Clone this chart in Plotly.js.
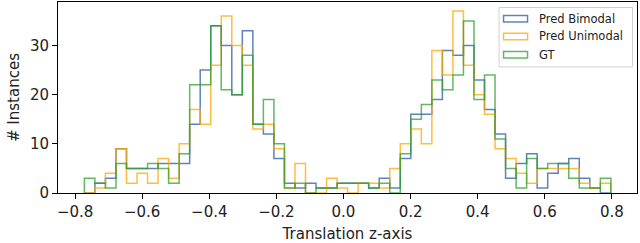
<!DOCTYPE html>
<html>
<head>
<meta charset="utf-8">
<script src="https://cdn.plot.ly/plotly-3.0.1.min.js"></script>
<style>html,body{margin:0;padding:0;background:#fff;}#chart{width:640px;height:243px;}</style>
</head>
<body>
<div id="chart"></div>
<script>
// Histogram bins (shared by all three series)
const binStart = -0.7724;
const binWidth = 0.03139;
const nBins = 50;

// Counts per bin
const predBimodal = [0,2,3,9,5,5,5,6,6,6, 14,25,34,30,20,33,14,12,7,2, 1,2,1,1,2,2,2,1,3,1, 7,16,16,19,29,28,30,23,17,12, 3,6,8,1,4,6,7,3,1,0];
const predUnimodal = [0,1,4,9,2,4,2,7,3,10, 17,14,26,36,30,26,13,14,9,1, 6,0,0,3,1,0,2,2,1,5, 10,13,10,29,24,37,26,20,16,9, 7,4,2,5,5,5,5,2,1,2];
const gt = [3,2,1,6,5,5,6,5,2,8, 22,22,34,21,20,28,14,19,10,1, 2,0,1,1,2,2,2,1,2,0, 8,15,18,23,21,24,35,19,24,11, 5,1,7,5,6,6,3,1,1,3];

const seriesNames = ["Pred Bimodal", "Pred Unimodal", "GT"];
const xTickVals = [-0.8,-0.6,-0.4,-0.2,0,0.2,0.4,0.6,0.8];
const xTickText = ["\u22120.8","\u22120.6","\u22120.4","\u22120.2","0.0","0.2","0.4","0.6","0.8"];
const yTickVals = [0,10,20,30];
const yTickText = ["0","10","20","30"];

const colors = ["rgba(40,90,165,0.75)", "rgba(255,165,0,0.75)", "rgba(44,160,44,0.75)"];

function stepTrace(counts, name, color) {
  const xs = [binStart], ys = [0];
  for (let i = 0; i < counts.length; i++) {
    xs.push(binStart + i * binWidth);
    ys.push(counts[i]);
  }
  xs.push(binStart + counts.length * binWidth);
  ys.push(0);
  return {type: "scatter", mode: "lines", x: xs, y: ys, name: name,
          line: {shape: "hv", color: color, width: 1.5}, showlegend: false, hoverinfo: "skip"};
}

const traces = [
  stepTrace(predBimodal, seriesNames[0], colors[0]),
  stepTrace(predUnimodal, seriesNames[1], colors[1]),
  stepTrace(gt, seriesNames[2], colors[2])
];

// plot area in pixels: left 58.3, right 637.5, top 2, bottom 193.3
const L = 58.3, R = 637.5, T = 2, B = 193.3;
const px = v => (v - L) / (R - L);
const py = v => (B - v) / (B - T);

const shapes = [];
const annotations = [];
// legend frame
(function(){
  const x0 = px(499.5), x1 = px(633), y0 = py(67), y1 = py(7.5);
  shapes.push({type: "rect", xref: "paper", yref: "paper", x0: x0, x1: x1, y0: y0, y1: y1,
    line: {color: "#d0d0d0", width: 1}, fillcolor: "rgba(255,255,255,0.85)", layer: "above"});
})();
const legendY = [18.7, 36.5, 54.8];
for (let i = 0; i < 3; i++) {
  shapes.push({type: "rect", xref: "paper", yref: "paper",
    x0: px(504), x1: px(528), y0: py(legendY[i] + 3.3), y1: py(legendY[i] - 3.3),
    line: {color: colors[i], width: 1.5}, fillcolor: "rgba(0,0,0,0)", layer: "above"});
  annotations.push({xref: "paper", yref: "paper", x: px(537), y: py(legendY[i]),
    xanchor: "left", yanchor: "middle", text: seriesNames[i], showarrow: false,
    font: {family: "DejaVu Sans", size: 11.5, color: "#222"}});
}

const layout = {
  width: 640, height: 243,
  margin: {l: L, r: 640 - R, t: T, b: 243 - B, pad: 0},
  paper_bgcolor: "#fff", plot_bgcolor: "#fff",
  font: {family: "DejaVu Sans", size: 15, color: "#222"},
  showlegend: false,
  xaxis: {
    range: [-0.851, 0.875], showgrid: false, zeroline: false,
    showline: true, mirror: true, linecolor: "#000", linewidth: 1,
    ticks: "outside", ticklen: 5, tickwidth: 1, tickcolor: "#000",
    tickvals: xTickVals, ticktext: xTickText,
    tickfont: {family: "DejaVu Sans", size: 15, color: "#222"},
    title: {text: "Translation z-axis", font: {family: "DejaVu Sans", size: 15, color: "#222"}, standoff: 8}
  },
  yaxis: {
    range: [0, 38.85], showgrid: false, zeroline: false,
    showline: true, mirror: true, linecolor: "#000", linewidth: 1,
    ticks: "outside", ticklen: 5, tickwidth: 1, tickcolor: "#000",
    tickvals: yTickVals, ticktext: yTickText,
    tickfont: {family: "DejaVu Sans", size: 15, color: "#222"},
    title: {text: "# Instances", font: {family: "DejaVu Sans", size: 15, color: "#222"}, standoff: 6}
  },
  shapes: shapes,
  annotations: annotations
};

Plotly.newPlot("chart", traces, layout, {staticPlot: true, displayModeBar: false});
</script>
</body>
</html>
